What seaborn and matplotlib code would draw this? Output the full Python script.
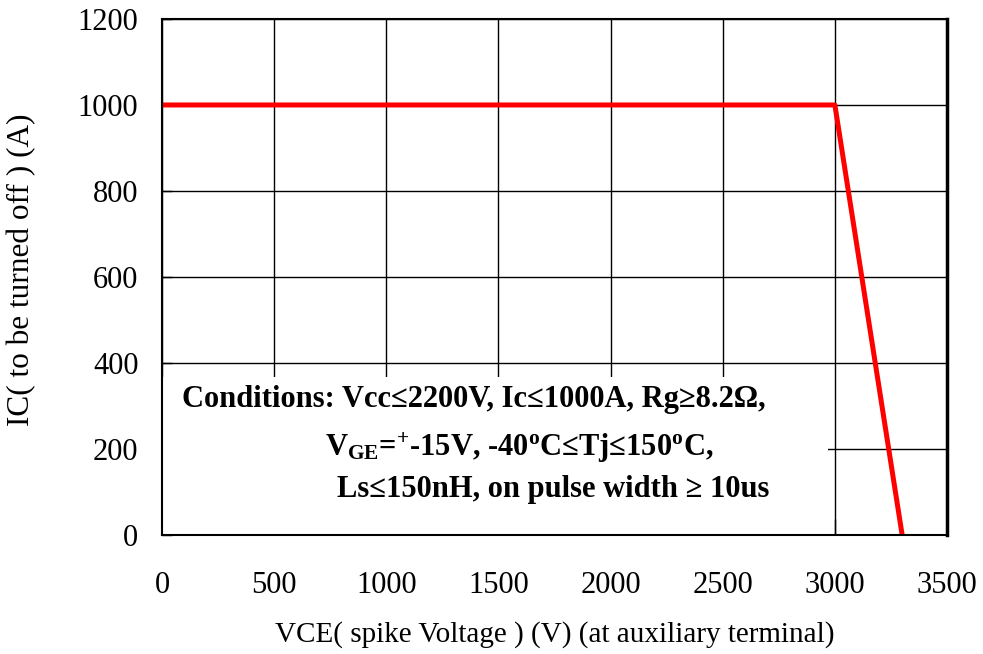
import matplotlib
matplotlib.use("Agg")
import matplotlib.pyplot as plt
import seaborn as sns
import pandas as pd
from matplotlib.patches import Rectangle

# Data
vce = [0, 3000, 3300]
ic = [1000, 1000, 0]
xticks = [0, 500, 1000, 1500, 2000, 2500, 3000, 3500]
yticks = [0, 200, 400, 600, 800, 1000, 1200]
cond_lines = [
    "Conditions: Vcc≤2200V, Ic≤1000A, Rg≥8.2Ω,",
    r"V$_\mathrm{GE}$=$^{+}$-15V, -40$^\mathrm{o}$C≤Tj≤150$^\mathrm{o}$C,",
    "Ls≤150nH, on pulse width ≥ 10us",
]

sns.set_theme(style="white")
plt.rcParams["font.family"] = ["Liberation Serif", "DejaVu Serif"]
plt.rcParams["mathtext.fontset"] = "custom"
plt.rcParams["mathtext.rm"] = "Liberation Serif:bold"
plt.rcParams["mathtext.it"] = "Liberation Serif:bold"
plt.rcParams["mathtext.bf"] = "Liberation Serif:bold"

fig = plt.figure(figsize=(9.83, 6.54), dpi=100)
ax = fig.add_axes([0.1648, 0.182, 0.7986, 0.789])

df = pd.DataFrame({"VCE": vce, "IC": ic})
sns.lineplot(data=df, x="VCE", y="IC", ax=ax, color="#FF0000", linewidth=3.6, zorder=3)

ax.set_xlim(0, 3500)
ax.set_ylim(0, 1200)
ax.set_xticks(xticks)
ax.set_yticks(yticks)

for t in xticks:
    ax.axvline(t, color="black", linewidth=1.0, zorder=0.5)
for t in yticks:
    ax.axhline(t, color="black", linewidth=1.0, zorder=0.5)

ax.add_patch(Rectangle((0, 0), 2970, 367, facecolor="white", edgecolor="none", zorder=1))

ax.tick_params(bottom=True, left=True, direction="in", width=1.0, color="black",
               labelsize=22, labelcolor="black")
ax.tick_params(axis="x", pad=26, length=11.5)
ax.tick_params(axis="y", pad=17, length=7.5)

for sp in ax.spines.values():
    sp.set_color("black")
    sp.set_linewidth(1.5)
    sp.set_zorder(4)
ax.spines["right"].set_linewidth(2.5)

ax.set_xlabel("VCE( spike Voltage ) (V) (at auxiliary terminal)", fontsize=21, color="black")
ax.set_ylabel("IC( to be turned off ) (A)", fontsize=22.5, color="black")
ax.xaxis.set_label_coords(0.5, -0.166)
ax.yaxis.set_label_coords(-0.160, 0.514)

pos = [(89, 314), (727, 202), (780, 105)]
for (x, y), s in zip(pos, cond_lines):
    ax.text(x, y, s, ha="left", va="center", fontsize=22, fontweight="bold", color="black", zorder=5)

fig.savefig("out.png", dpi=100)
